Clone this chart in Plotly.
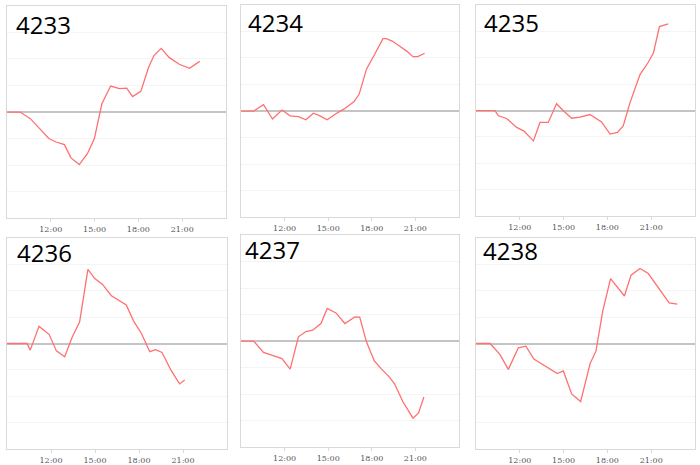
import plotly.graph_objects as go

DAY = "2024-01-01 "

# station ids shown in the panels
stations = ["4233", "4234", "4235", "4236", "4237", "4238"]

# time of each vertex and its value (grid unit = 1)
times_4233 = ["09:00", "09:54", "10:36", "11:14", "11:52", "12:22", "12:56", "13:23", "13:57", "14:31",
              "14:59", "15:30", "16:06", "16:42", "17:12", "17:36", "18:10", "18:42", "19:04", "19:34",
              "20:06", "20:48", "21:30", "22:12"]
values_4233 = [0, 0, -0.25, -0.63, -1.0, -1.13, -1.23, -1.73, -1.98, -1.56,
               -1.0, 0.31, 0.98, 0.88, 0.9, 0.58, 0.78, 1.69, 2.13, 2.4,
               2.06, 1.8, 1.65, 1.91]

times_4234 = ["09:00", "09:52", "10:33", "11:10", "11:49", "12:23", "12:57", "13:28", "13:59", "14:26",
              "14:56", "15:30", "16:06", "16:46", "17:08", "17:38", "18:12", "18:46", "19:00", "19:24",
              "19:54", "20:24", "20:50", "21:10", "21:38"]
values_4234 = [0, 0, 0.24, -0.3, 0.04, -0.18, -0.21, -0.33, -0.08, -0.18,
               -0.33, -0.11, 0.08, 0.35, 0.64, 1.58, 2.14, 2.73, 2.73, 2.64,
               2.45, 2.26, 2.05, 2.05, 2.18]

times_4235 = ["09:00", "10:18", "10:32", "11:06", "11:47", "12:17", "12:56", "13:23", "13:57", "14:31",
              "14:59", "15:33", "16:07", "16:48", "17:36", "18:11", "18:41", "19:05", "19:33", "20:14",
              "20:48", "21:09", "21:34", "22:10"]
values_4235 = [0, 0, -0.2, -0.3, -0.64, -0.78, -1.15, -0.45, -0.45, 0.26,
               -0.01, -0.29, -0.25, -0.15, -0.43, -0.89, -0.83, -0.58, 0.3, 1.36,
               1.83, 2.18, 3.18, 3.28]

times_4236 = ["09:00", "10:22", "10:35", "11:11", "11:52", "12:22", "12:56", "13:27", "13:57", "14:31",
              "14:59", "15:30", "16:07", "16:41", "17:08", "17:38", "18:10", "18:44", "19:08", "19:34",
              "20:12", "20:46", "21:07"]
values_4236 = [0, 0, -0.25, 0.65, 0.35, -0.28, -0.5, 0.25, 0.81, 2.81,
               2.46, 2.25, 1.81, 1.6, 1.46, 0.85, 0.38, -0.31, -0.23, -0.34,
               -1.03, -1.53, -1.38]

times_4237 = ["09:00", "09:52", "10:33", "11:14", "11:49", "12:23", "12:57", "13:28", "13:56", "14:30",
              "14:56", "15:32", "16:09", "16:50", "17:10", "17:38", "18:10", "18:40", "19:11", "19:34",
              "20:08", "20:50", "21:13", "21:35"]
values_4237 = [0, 0, -0.43, -0.54, -0.66, -1.06, 0.16, 0.36, 0.41, 0.66,
               1.23, 1.06, 0.66, 0.91, 0.9, -0.03, -0.74, -1.06, -1.34, -1.61,
               -2.28, -2.91, -2.71, -2.11]

times_4238 = ["09:00", "09:58", "10:38", "11:13", "11:54", "12:25", "12:58", "13:34", "14:04", "14:34",
              "14:59", "15:33", "16:10", "16:49", "17:13", "17:41", "18:13", "18:41", "19:10", "19:37",
              "20:14", "20:48", "21:09", "21:39", "22:14", "22:47"]
values_4238 = [0, 0, -0.41, -0.98, -0.16, -0.1, -0.59, -0.79, -0.96, -1.14,
               -1.04, -1.91, -2.2, -0.76, -0.29, 1.24, 2.46, 2.14, 1.8, 2.59,
               2.84, 2.65, 2.39, 1.99, 1.54, 1.49]

tick_labels = ["12:00", "15:00", "18:00", "21:00"]

all_times = [times_4233, times_4234, times_4235, times_4236, times_4237, times_4238]
all_values = [values_4233, values_4234, values_4235, values_4236, values_4237, values_4238]

W, H = 700, 465
# panel boxes in pixels: left, right, top, bottom
boxes = [
    (7, 226, 6, 220), (241, 459, 5, 219), (476, 695, 5, 218),
    (7, 227, 240, 453), (241, 459, 237, 451), (476, 695, 240, 453),
]
# title anchor (left x, middle y) in pixels
title_pos = [(14, 25), (246, 23), (482, 23), (15, 255), (243, 252), (481, 253)]

LINE_COLOR = "rgb(255,112,112)"

fig = go.Figure()

for i, name in enumerate(stations):
    n = i + 1
    xa = "x" if n == 1 else f"x{n}"
    ya = "y" if n == 1 else f"y{n}"
    fig.add_trace(go.Scatter(
        x=[DAY + t for t in all_times[i]],
        y=all_values[i],
        mode="lines",
        line=dict(color=LINE_COLOR, width=1.3),
        xaxis=xa, yaxis=ya,
        showlegend=False,
        name=name,
    ))

    l, r, t, b = boxes[i]
    key = "" if n == 1 else str(n)
    fig.layout["xaxis" + key] = dict(
        domain=[l / W, r / W],
        anchor=ya,
        type="date",
        range=["2024-01-01 09:00", "2024-01-02 00:00"],
        tickvals=[DAY + s for s in tick_labels],
        ticktext=tick_labels,
        tickfont=dict(size=8, color="#555555", family="DejaVu Serif"),
        ticks="outside", ticklen=3, tickcolor="#d9d9d9",
        showgrid=False,
        showline=True, mirror=True, linecolor="#d9d9d9", linewidth=1,
        zeroline=False,
        fixedrange=True,
    )
    fig.layout["yaxis" + key] = dict(
        domain=[1 - b / H, 1 - t / H],
        anchor=xa,
        range=[-4, 4],
        dtick=1,
        showticklabels=False,
        showgrid=True, gridcolor="#f4f4f4", gridwidth=1,
        zeroline=True, zerolinecolor="#c4c4c4", zerolinewidth=1.5,
        showline=True, mirror=True, linecolor="#d9d9d9", linewidth=1,
        fixedrange=True,
    )

    tx, ty = title_pos[i]
    fig.add_annotation(
        text=name, xref="paper", yref="paper",
        x=tx / W, y=1 - ty / H, xanchor="left", yanchor="middle",
        showarrow=False,
        font=dict(size=24, color="black", family="Open Sans"),
    )

fig.update_layout(
    width=W, height=H,
    margin=dict(l=0, r=0, t=0, b=0),
    paper_bgcolor="white",
    plot_bgcolor="white",
)

# drop the page's default body margin so the figure sits at the window corner
fig.write_html("out.html", config={"displayModeBar": False},
               post_script="document.body.style.margin='0';")
